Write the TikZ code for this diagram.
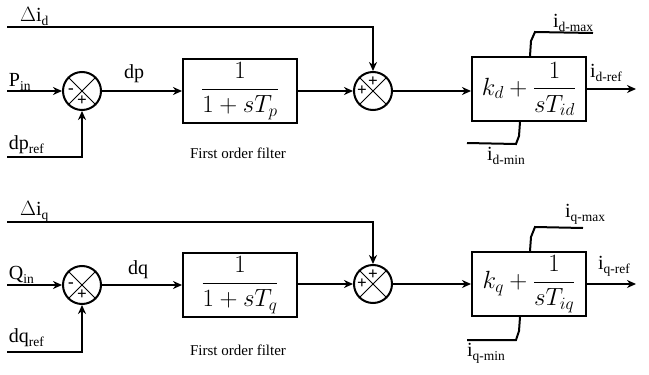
\documentclass[tikz,border=0pt]{standalone}
\usepackage{amsmath}
\usepackage{fontspec}
\setmainfont{Liberation Serif}
\usetikzlibrary{arrows.meta}
\newcommand\lsub[1]{\raisebox{-0.45ex}{\fontsize{13.5}{13.5}\selectfont #1}}
\begin{document}
\begin{tikzpicture}[x=1pt,y=-1pt,
  line width=2pt,
  arr/.style={-{Stealth[length=9pt,width=8pt]}},
  sumnode/.style={circle,draw,minimum size=38pt,inner sep=0pt},
  blk/.style={rectangle,draw,minimum width=114pt,minimum height=64pt,inner sep=0pt},
  lbl/.style={font=\fontsize{20}{20}\selectfont,inner sep=0pt},
  captxt/.style={font=\fontsize{15}{15}\selectfont,inner sep=0pt},
  sgn/.style={font=\fontsize{17}{17}\selectfont\bfseries,inner sep=0pt},
  mth/.style={font=\fontsize{24}{28}\selectfont},
  thinx/.style={line width=1pt}]
\useasboundingbox (0,0) rectangle (649,375);

% ---------- top row ----------
\node[sumnode] (s1) at (82,91) {};
\draw[thinx] (s1.45) -- (s1.225) (s1.135) -- (s1.315);
\node[sgn] at ([xshift=-11pt]s1.center) {-};
\node[sgn] at ([yshift=-10pt]s1.center) {+};
\node[blk,mth] (f1) at (240,91) {$\dfrac{1}{1+sT_p}$};
\node[sumnode] (s2) at (373,91) {};
\draw[thinx] (s2.45) -- (s2.225) (s2.135) -- (s2.315);
\node[sgn] at ([yshift=9pt]s2.center) {+};
\node[sgn] at ([xshift=-11pt]s2.center) {+};
\node[blk,mth] (p1) at (529,89) {$k_d+\dfrac{1}{sT_{id}}$};

\coordinate (pin) at (7,91);
\coordinate (dpref) at (7,157);
\coordinate (dai) at (7,27);
\coordinate (out1) at (636,89);
\coordinate (max1) at (593,33);
\coordinate (min1) at (467,143);

\draw[arr] (pin) -- (s1);
\draw[arr] (dpref) -| (s1);
\draw[arr] (s1) -- (f1);
\draw[arr] (f1) -- (s2);
\draw[arr] (dai) -| (s2);
\draw[arr] (s2) -- (p1.west |- s2);
\draw[arr] (p1) -- (out1);
\draw ([xshift=1pt]p1.north) -- ++(1,-15) -- ++(4,-9) -- (max1);
\draw ([xshift=-9pt]p1.south) -- ++(-1,14) -- ++(-3,8) -- (min1);

\node[lbl,anchor=base west] (tdai) at (19,21) {$\Delta$i\lsub{d}};
\node[lbl,anchor=base west] (tpin) at (8,86) {P\lsub{in}};
\node[lbl,anchor=base west] (tdpref) at (8,149) {dp\lsub{ref}};
\node[lbl,anchor=base west] (tdp) at (123,78) {dp};
\node[captxt] (tf1) at (238,153) {First order filter};
\node[lbl,anchor=base west] (tmax1) at (552,27) {i\lsub{d-max}};
\node[lbl,anchor=base west] (tref1) at (589,77) {i\lsub{d-ref}};
\node[lbl,anchor=base west] (tmin1) at (486,160) {i\lsub{d-min}};

% ---------- bottom row ----------
\node[sumnode] (s3) at (82,285) {};
\draw[thinx] (s3.45) -- (s3.225) (s3.135) -- (s3.315);
\node[sgn] at ([xshift=-11pt]s3.center) {-};
\node[sgn] at ([yshift=-10pt]s3.center) {+};
\node[blk,mth] (f2) at (240,285) {$\dfrac{1}{1+sT_q}$};
\node[sumnode] (s4) at (373,284) {};
\draw[thinx] (s4.45) -- (s4.225) (s4.135) -- (s4.315);
\node[sgn] at ([yshift=9pt]s4.center) {+};
\node[sgn] at ([xshift=-11pt]s4.center) {+};
\node[blk,mth] (p2) at (529,284) {$k_q+\dfrac{1}{sT_{iq}}$};

\coordinate (qin) at (7,285);
\coordinate (dqref) at (7,352);
\coordinate (daq) at (7,222);
\coordinate (out2) at (636,284);
\coordinate (max2) at (583,228);
\coordinate (min2) at (467,340);

\draw[arr] (qin) -- (s3);
\draw[arr] (dqref) -| (s3);
\draw[arr] (s3) -- (f2.west |- s3);
\draw[arr] (f2.east |- s4) -- (s4);
\draw[arr] (daq) -| (s4);
\draw[arr] (s4) -- (p2);
\draw[arr] (p2) -- (out2);
\draw ([xshift=1pt]p2.north) -- ++(1,-14) -- ++(4,-10) -- (max2);
\draw ([xshift=-9pt]p2.south) -- ++(-1,14) -- ++(-3,9) -- (min2);

\node[lbl,anchor=base west] (tdaq) at (19,215) {$\Delta$i\lsub{q}};
\node[lbl,anchor=base west] (tqin) at (8,279) {Q\lsub{in}};
\node[lbl,anchor=base west] (tdqref) at (8,342) {dq\lsub{ref}};
\node[lbl,anchor=base west] (tdq) at (127,274) {dq};
\node[captxt] (tf2) at (238,350) {First order filter};
\node[lbl,anchor=base west] (tmax2) at (564,217) {i\lsub{q-max}};
\node[lbl,anchor=base west] (tref2) at (597,269) {i\lsub{q-ref}};
\node[lbl,anchor=base west] (tmin2) at (466,356) {i\lsub{q-min}};
\end{tikzpicture}
\end{document}
